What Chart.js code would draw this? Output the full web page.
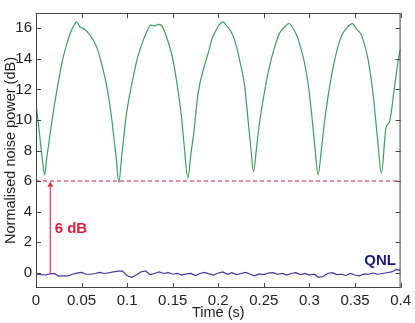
<!DOCTYPE html>
<html>
<head>
<meta charset="utf-8">
<script src="https://cdn.jsdelivr.net/npm/chart.js@4/dist/chart.umd.min.js"></script>
<style>
  html, body { margin: 0; padding: 0; background: #fff; }
  #wrap { width: 415px; height: 323px; }
</style>
</head>
<body>
<div id="wrap"><canvas id="chartCanvas" width="415" height="323"></canvas></div>
<script>
// Squeezed noise trace (green)
const squeezeTime = [
  0.000, 0.004, 0.007, 0.0095, 0.012, 0.016, 0.020, 0.024, 0.029, 0.033,
  0.036, 0.040, 0.0446, 0.048, 0.053, 0.058, 0.062, 0.067, 0.071, 0.074,
  0.077, 0.080, 0.083, 0.085, 0.088, 0.0909, 0.094, 0.0988, 0.102, 0.106,
  0.1115, 0.117, 0.121, 0.126, 0.130, 0.134, 0.1375, 0.141, 0.144, 0.148,
  0.151, 0.1566, 0.160, 0.162, 0.1667, 0.170, 0.173, 0.178, 0.1856, 0.190,
  0.193, 0.197, 0.200, 0.2054, 0.210, 0.216, 0.220, 0.2235, 0.229, 0.2325,
  0.236, 0.2387, 0.242, 0.245, 0.2506, 0.256, 0.2615, 0.267, 0.270, 0.2777,
  0.282, 0.2867, 0.290, 0.294, 0.298, 0.301, 0.306, 0.3095, 0.313, 0.316,
  0.319, 0.3247, 0.330, 0.3355, 0.340, 0.347, 0.351, 0.354, 0.357, 0.3645,
  0.370, 0.3745, 0.379, 0.384, 0.388, 0.393, 0.3985, 0.400
];
const squeezePower = [
  11.1, 9.0, 7.4, 6.4, 7.6, 9.3, 10.9, 12.3, 13.9, 14.8,
  15.4, 16.0, 16.4, 16.1, 15.95, 15.65, 15.3, 14.7, 13.9, 13.2,
  12.4, 11.4, 10.1, 9.1, 7.5, 5.9, 7.6, 10.2, 11.4, 12.6,
  14.1, 15.1, 15.7, 16.2, 16.15, 16.25, 16.2, 15.8, 15.3, 14.5,
  13.7, 11.6, 10.0, 8.7, 6.2, 7.8, 9.1, 11.8, 13.7, 14.6,
  15.3, 15.8, 16.15, 16.4, 16.1, 15.55, 14.8, 13.9, 12.2, 10.1,
  8.0, 6.6, 8.2, 9.7, 11.8, 13.45, 14.7, 15.65, 15.9, 16.3,
  16.0, 15.45, 14.8, 13.9, 12.6, 11.2, 8.25, 6.4, 8.0, 9.6,
  10.95, 13.05, 14.5, 15.55, 15.95, 16.3, 16.0, 15.8, 15.55, 13.9,
  11.6, 8.9, 6.5, 9.5, 9.9, 12.0, 14.3, 14.6
];

// Quantum noise limit trace (blue), one value every 0.005 s
const qnlTime = [];
for (let i = 0; i <= 80; i++) qnlTime.push(i * 0.005);
const qnlPower = [
  -0.08, -0.12, -0.15, -0.08, -0.05, -0.22, -0.2, -0.2, -0.1, -0.03,
  0.02, -0.1, -0.1, -0.05, 0.02, -0.05, 0.0, 0.05, 0.1, 0.1,
  -0.2, -0.3, -0.15, 0.05, 0.12, -0.12, -0.05, 0.05, -0.05, 0.0,
  -0.1, -0.05, -0.15, -0.08, -0.05, -0.18, -0.05, 0.02, -0.08, -0.15,
  -0.02, 0.05, -0.1, 0.0, -0.12, -0.05, 0.02, -0.1, -0.2, -0.08,
  -0.12, -0.02, 0.0, -0.1, -0.05, -0.15, -0.05, 0.0, -0.12, -0.05,
  -0.15, -0.1, -0.3, -0.25, -0.05, 0.0, -0.12, -0.1, -0.18, -0.05,
  -0.15, -0.2, -0.08, -0.1, -0.02, -0.1, -0.05, 0.0, 0.05, 0.2,
  0.15
];

// Reference line, arrow and axis ticks
const limitLevel = [6, 6];
const limitTime = [0, 0.4];
const arrowTime = [0.0157, 0.0157];
const arrowPower = [-0.1, 5.75];
const xTicks = [0, 0.05, 0.1, 0.15, 0.2, 0.25, 0.3, 0.35, 0.4];
const yTicks = [0, 2, 4, 6, 8, 10, 12, 14, 16];

const FONT = '"Liberation Sans", Arial, sans-serif';

function pairs(xs, ys) {
  return xs.map((x, i) => ({ x: x, y: ys[i] }));
}

// Box frame, inward tick marks and the in-plot labels
const framePlugin = {
  id: 'frame',
  afterDraw(chart) {
    const { ctx, chartArea: a, scales } = chart;
    ctx.save();
    ctx.strokeStyle = '#444';
    ctx.lineWidth = 1;
    ctx.strokeRect(a.left + 0.5, a.top + 0.5, a.right - a.left - 1, a.bottom - a.top - 1);
    ctx.beginPath();
    xTicks.forEach(v => {
      const px = Math.round(scales.x.getPixelForValue(v)) + 0.5;
      ctx.moveTo(px, a.bottom); ctx.lineTo(px, a.bottom - 5);
      ctx.moveTo(px, a.top); ctx.lineTo(px, a.top + 5);
    });
    yTicks.forEach(v => {
      const py = Math.round(scales.y.getPixelForValue(v)) + 0.5;
      ctx.moveTo(a.left, py); ctx.lineTo(a.left + 5, py);
      ctx.moveTo(a.right, py); ctx.lineTo(a.right - 5, py);
    });
    ctx.stroke();

    ctx.font = 'bold 15px ' + FONT;
    ctx.textBaseline = 'middle';
    ctx.fillStyle = '#d8203c';
    ctx.textAlign = 'left';
    ctx.fillText('6 dB', scales.x.getPixelForValue(0.0205), scales.y.getPixelForValue(2.9));
    ctx.fillStyle = '#1c1a80';
    ctx.textAlign = 'center';
    ctx.fillText('QNL', scales.x.getPixelForValue(0.3775), scales.y.getPixelForValue(0.8));
    ctx.restore();
  }
};

new Chart(document.getElementById('chartCanvas'), {
  type: 'line',
  data: {
    datasets: [
      {
        data: pairs(limitTime, limitLevel),
        borderColor: '#e0667e',
        borderWidth: 1.5,
        borderDash: [4, 3],
        pointRadius: 0
      },
      {
        data: pairs(arrowTime, arrowPower),
        borderColor: '#e8324c',
        backgroundColor: '#e8324c',
        borderWidth: 1.2,
        pointStyle: 'triangle',
        pointRadius: [0, 3.5],
        pointBorderWidth: 0
      },
      {
        data: pairs(qnlTime, qnlPower),
        borderColor: '#3d35a3',
        borderWidth: 1.2,
        pointRadius: 0
      },
      {
        data: pairs(squeezeTime, squeezePower),
        borderColor: '#3a9d64',
        borderWidth: 1.2,
        pointRadius: 0,
        cubicInterpolationMode: 'monotone'
      }
    ]
  },
  options: {
    responsive: false,
    animation: false,
    devicePixelRatio: 1,
    layout: { padding: { top: 1, right: 10, left: 0, bottom: 0 } },
    plugins: { legend: { display: false }, tooltip: { enabled: false } },
    scales: {
      x: {
        type: 'linear',
        min: 0,
        max: 0.4,
        afterFit: s => { s.height = 35; },
        afterBuildTicks: s => { s.ticks = xTicks.map(v => ({ value: v })); },
        grid: { display: false, drawTicks: false },
        border: { display: false },
        ticks: {
          padding: 4,
          color: '#222',
          font: { family: FONT, size: 15 },
          maxRotation: 0,
          autoSkip: false,
          callback: v => String(Number(v.toFixed(2)))
        },
        title: {
          display: true,
          text: 'Time (s)',
          color: '#222',
          font: { family: FONT, size: 14.5 },
          padding: { top: 0, bottom: 1 }
        }
      },
      y: {
        min: -1,
        max: 17,
        afterFit: s => { s.width = 36; },
        afterBuildTicks: s => { s.ticks = yTicks.map(v => ({ value: v })); },
        grid: { display: false, drawTicks: false },
        border: { display: false },
        ticks: {
          padding: 4,
          color: '#222',
          font: { family: FONT, size: 15 },
          autoSkip: false
        },
        title: {
          display: true,
          text: 'Normalised noise power (dB)',
          color: '#222',
          font: { family: FONT, size: 14.5 },
          padding: { top: 2, bottom: 0 }
        }
      }
    }
  },
  plugins: [framePlugin]
});
</script>
</body>
</html>
